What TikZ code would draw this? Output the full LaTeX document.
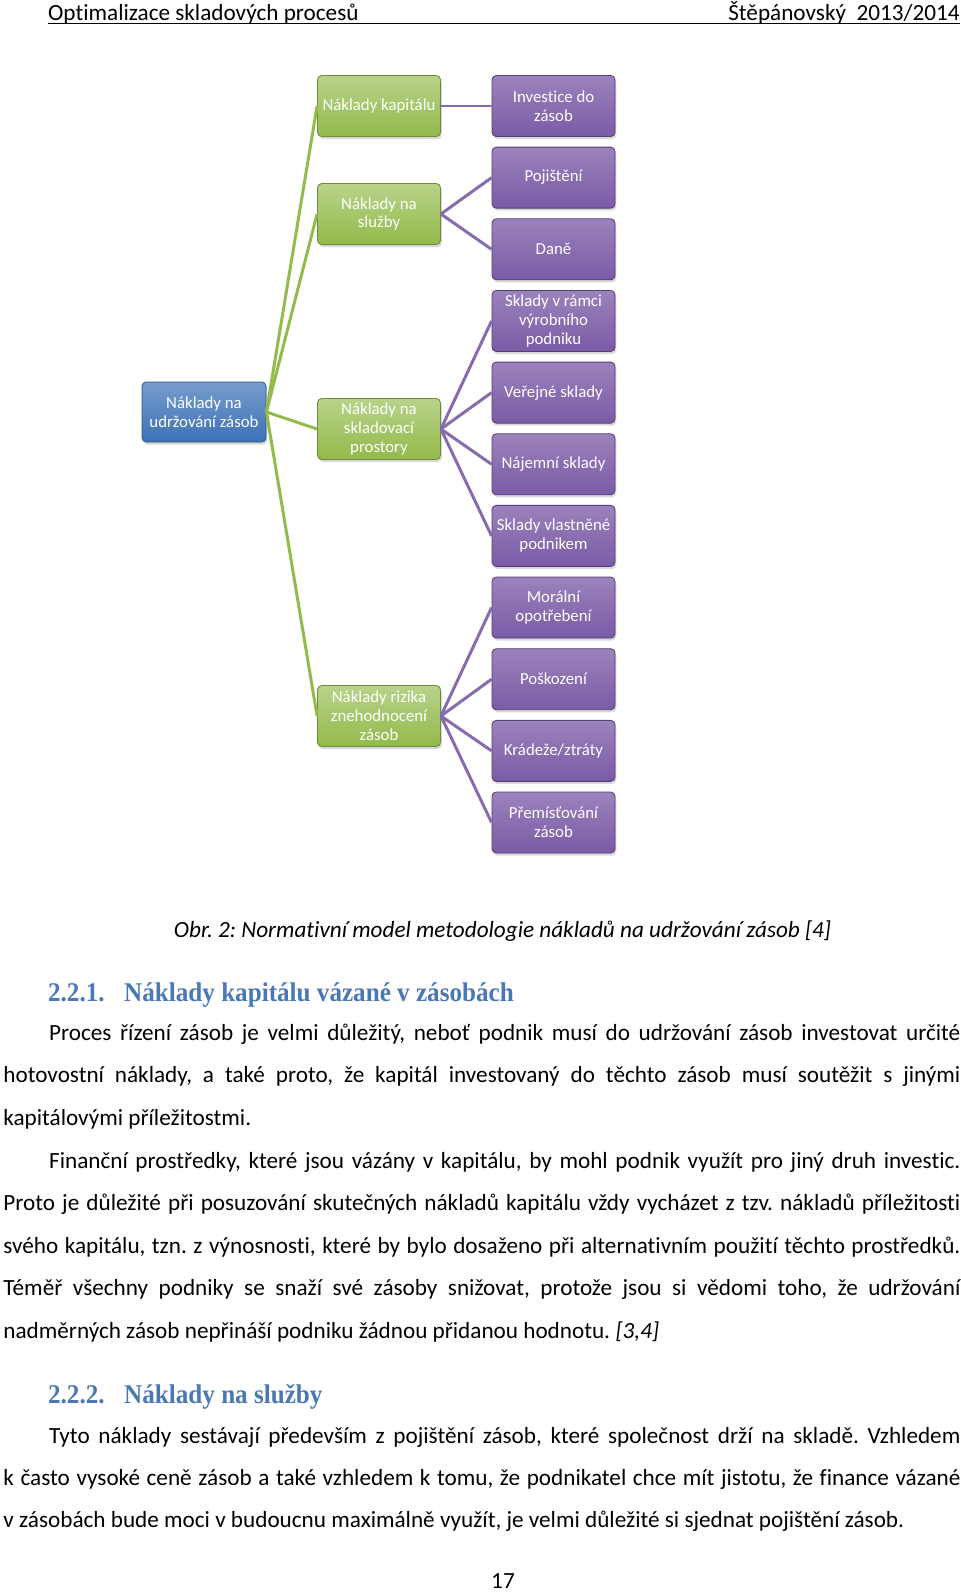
\documentclass[tikz,border=0pt]{standalone}
\usepackage{fontspec}
\setmainfont{Carlito}[Ligatures={NoCommon}]
\newfontfamily\headfont[FakeStretch=0.93]{Liberation Serif}
\usetikzlibrary{shadows}
\frenchspacing

\newlength\pxu
\setlength\pxu{0.47pt}
\newcommand\jline[2]{\makebox[#1\pxu][s]{#2}}

\definecolor{rootblue}{HTML}{3C72B6}
\definecolor{costgreen}{HTML}{93BA4B}
\definecolor{itempurple}{HTML}{7A5AA6}
\definecolor{headblue}{HTML}{4A78B5}

\tikzset{
	box/.style={rectangle, rounded corners=2pt, minimum width=123\pxu, minimum height=61\pxu,
		align=center, text=white, inner sep=1pt, line width=0.4pt,
		font=\fontsize{7.9}{8.9}\selectfont,
		drop shadow={shadow xshift=0.6pt, shadow yshift=-1.2pt, opacity=0.3}},
	rootbox/.style={box, minimum width=124\pxu, minimum height=60\pxu,
		top color=rootblue!70!white, bottom color=rootblue, draw=rootblue!75!black},
	costbox/.style={box, top color=costgreen!65!white, bottom color=costgreen, draw=costgreen!75!black},
	leafbox/.style={box, top color=itempurple!75!white, bottom color=itempurple, draw=itempurple!70!black},
	greenline/.style={draw=costgreen, line width=1.4pt},
	purpleline/.style={draw=itempurple!90!white, line width=1.4pt},
	txt/.style={anchor=base west, inner sep=0pt, font=\fontsize{10.9}{13}\selectfont},
	head/.style={anchor=base west, inner sep=0pt, text=headblue, font=\headfont\bfseries\fontsize{12.7}{14}\selectfont}
}

\begin{document}
\begin{tikzpicture}[x=\pxu, y=-\pxu]
\useasboundingbox[fill=white] (0,0) rectangle (960,1592);

% header
\node[txt] (hdl) at (47.7,20.5) {Optimalizace skladových procesů};
\node[txt, anchor=base east] (hdr) at (960,20.5) {Štěpánovský~~2013/2014};
\draw[line width=0.8pt] (47.7,23.5) -- (960,23.5);

% diagram
\node[rootbox] (root) at (204,412) {Náklady na\\udržování zásob};

\node[costbox] (g1) at (379,106) {Náklady kapitálu};
\node[costbox] (g2) at (379,214) {Náklady na\\služby};
\node[costbox] (g3) at (379,429) {Náklady na\\skladovací\\prostory};
\node[costbox] (g4) at (379,716) {Náklady rizika\\znehodnocení\\zásob};

\foreach \txt [count=\i] in {{Investice do\\zásob}, Pojištění, Daně, {Sklady v rámci\\výrobního\\podniku},
	Veřejné sklady, Nájemní sklady, {Sklady vlastněné\\podnikem}, {Morální\\opotřebení},
	Poškození, Krádeže/ztráty, {Přemísťování\\zásob}}
	\node[leafbox] (p\i) at (553.5,{106+71.65*(\i-1)}) {\txt};

\foreach \g in {g1, g2, g3, g4}
	\draw[greenline] (root.east) -- (\g.west);

\foreach \g/\p in {g1/1, g2/2, g2/3, g3/4, g3/5, g3/6, g3/7, g4/8, g4/9, g4/10, g4/11}
	\draw[purpleline] (\g.east) -- (p\p.west);

% caption
\node[txt, font=\fontsize{10.9}{13}\selectfont\itshape] (cap) at (173.5,937.5)
	{Obr. 2: Normativní model metodologie nákladů na udržování zásob [4]};

% 2.2.1
\node[head] (h1n) at (47.7,1001.5) {2.2.1.};
\node[head] (h1) at (123.8,1001.5) {Náklady kapitálu vázané v zásobách};

\node[txt] (a1) at (48.7,1040) {\jline{911.3}{Proces řízení zásob je velmi důležitý, neboť podnik musí do udržování zásob investovat určité}};
\node[txt] (a2) at (3,1082.7) {\jline{957}{hotovostní náklady, a také proto, že kapitál investovaný do těchto zásob musí soutěžit s~jinými}};
\node[txt] (a3) at (3,1125.3) {kapitálovými příležitostmi.};

\node[txt] (b1) at (48.7,1168) {\jline{911.3}{Finanční prostředky, které jsou vázány v kapitálu, by mohl podnik využít pro jiný druh investic.}};
\node[txt] (b2) at (3,1210.6) {\jline{957}{Proto je důležité při posuzování skutečných nákladů kapitálu vždy vycházet z tzv. nákladů příležitosti}};
\node[txt] (b3) at (3,1253.2) {\jline{957}{svého kapitálu, tzn. z výnosnosti, které by bylo dosaženo při alternativním použití těchto prostředků.}};
\node[txt] (b4) at (3,1295.8) {\jline{957}{Téměř všechny podniky se snaží své zásoby snižovat, protože jsou si vědomi toho, že udržování}};
\node[txt] (b5) at (3,1338.4) {nadměrných zásob nepřináší podniku žádnou přidanou hodnotu. \textit{[3,4]}};

% 2.2.2
\node[head] (h2n) at (47.7,1403.3) {2.2.2.};
\node[head] (h2) at (123.8,1403.3) {Náklady na služby};

\node[txt] (c1) at (48.7,1443) {\jline{911.3}{Tyto náklady sestávají především z pojištění zásob, které společnost drží na skladě. Vzhledem}};
\node[txt] (c2) at (3,1485.5) {\jline{957}{k často vysoké ceně zásob a také vzhledem k tomu, že podnikatel chce mít jistotu, že finance vázané}};
\node[txt] (c3) at (3,1527.2) {v zásobách bude moci v budoucnu maximálně využít, je velmi důležité si sjednat pojištění zásob.};

% page number
\node[txt, anchor=base] (pg) at (503,1588) {17};

\end{tikzpicture}
\end{document}
